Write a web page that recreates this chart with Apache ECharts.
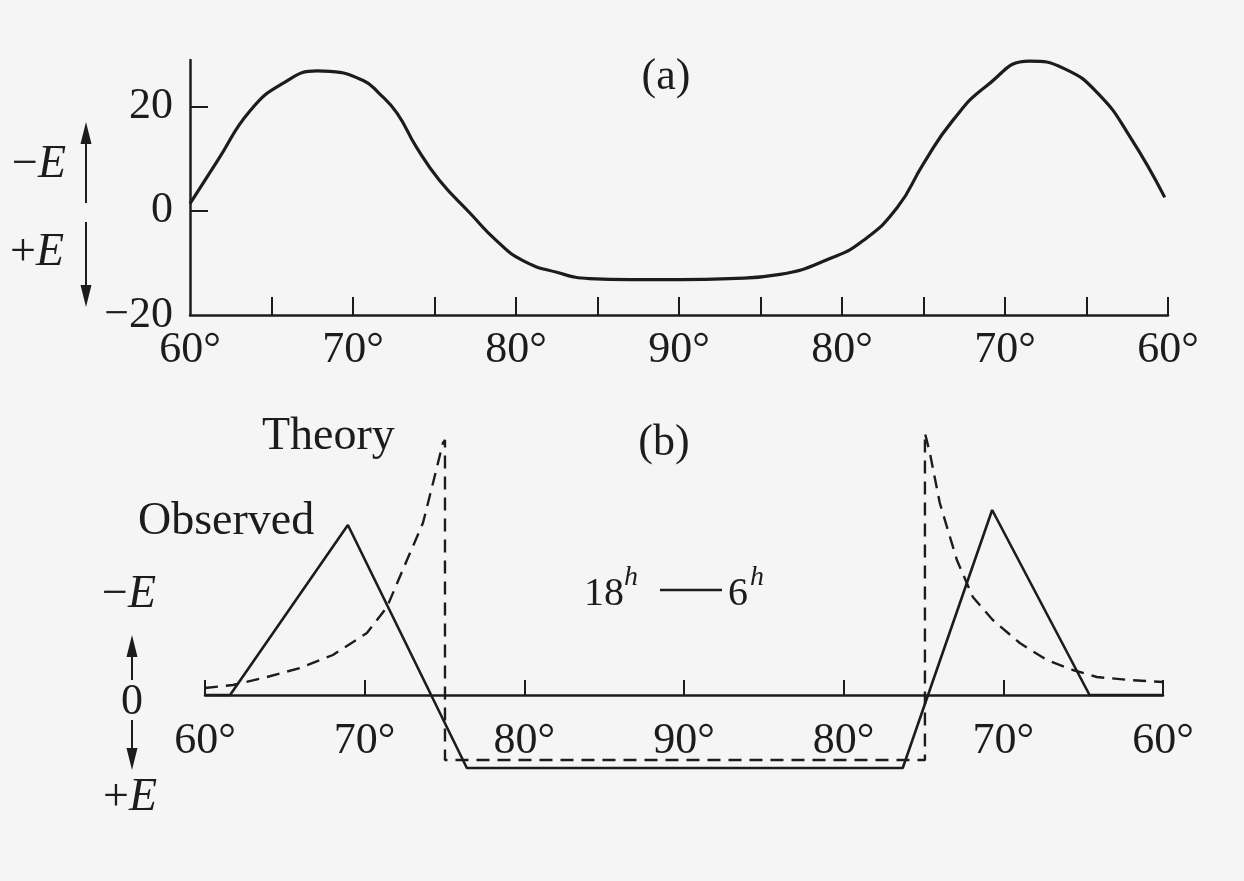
<!DOCTYPE html>
<html>
<head>
<meta charset="utf-8">
<title>Polar cap electric field, 60° – 90° – 60°</title>
<script src="https://cdn.jsdelivr.net/npm/echarts@6/dist/echarts.min.js"></script>
<style>
  html, body { margin: 0; padding: 0; background: #f5f5f5; }
  #grafica { width: 1244px; height: 881px; }
</style>
</head>
<body>
<div id="grafica"></div>
<script>
// ── Panel (a): campo medido a lo largo del recorrido 60° → 90° → 60° ─────────
// recorrido = grados recorridos desde el primer 60° (0 … 60)
const recorridoA = [0, 1.7, 3.7, 5.7, 7.8, 8.6, 10.6, 11.6, 12.7, 13.9, 15.3, 17.2, 18.8, 20.4, 22.5, 24.5,
   27.0, 30.1, 33.1, 36.2, 39.3, 41.3, 43.4, 45.0, 46.8, 48.9, 51.5, 53.6, 55.7, 57.7, 59.8];
const campoA = [1.4, 9.7, 19.3, 24.5, 26.9, 26.8, 25.1, 22.6, 18.8, 12.2, 5.9, -0.5, -5.7, -9.5, -11.8, -13.0,
   -13.2, -13.2, -13.0, -12.2, -9.1, -5.7, 0.7, 9.1, 17.4, 24.1, 28.8, 27.4, 22.6, 14.1, 2.6];

// ── Panel (b): observado (continuo) y teoría (discontinuo) ──────────────────
const recorridoObs = [0, 1.57, 8.95, 16.4, 43.7, 49.3, 55.4, 60];
const campoObs = [0, 0, 17.0, -7.3, -7.3, 18.5, 0, 0];

const recorridoTeo = [0, 1.75, 3.88, 5.95, 8.01, 10.14, 11.4, 12.65, 13.65, 14.28, 14.9, 15.03, 15.03,
   45.09, 45.09, 45.4, 46.02, 47.09, 48.09, 49.34, 51.03, 52.72, 54.35, 55.85, 57.92, 60];
const campoTeo = [0.7, 1.0, 1.8, 2.7, 4.0, 6.2, 8.8, 13.5, 17.2, 21.2, 25.2, 25.5, -6.5,
   -6.5, 26.2, 24.2, 19.2, 13.5, 9.8, 7.5, 5.2, 3.5, 2.5, 1.8, 1.5, 1.3];

// ── Ejes ────────────────────────────────────────────────────────────────────
const posEtiquetas = [0, 10, 20, 30, 40, 50, 60];
const etiquetasLat = ["60°", "70°", "80°", "90°", "80°", "70°", "60°"];
const marcasA = [5, 10, 15, 20, 25, 30, 35, 40, 45, 50, 55, 60];
const marcasB = [0, 10, 20, 30, 40, 50, 60];
const etiquetasYA = [-20, 0, 20];
const marcasYA = [0, 20];

const tinta = "#1c1c1c";
const fuente = '"Liberation Serif", "DejaVu Serif", serif';

const fnEjeLatitud = (indiceGrid, marcas, largoMarca, margen) => ({
   type: "value",
   gridIndex: indiceGrid,
   min: 0,
   max: 60,
   interval: 5,
   axisLine: { onZero: false, lineStyle: { color: tinta, width: 2.5 } },
   axisTick: { inside: true, length: largoMarca, customValues: marcas, lineStyle: { color: tinta, width: 2 } },
   axisLabel: {
      customValues: posEtiquetas,
      margin: margen,
      fontFamily: fuente,
      fontSize: 44,
      color: tinta,
      formatter: v => etiquetasLat[Math.round(v / 10)] || ""
   },
   splitLine: { show: false }
});

const fnPares = (xs, ys) => xs.map((x, i) => [x, ys[i]]);

// ── Anotaciones ─────────────────────────────────────────────────────────────
const fnTexto = (x, y, contenido, tam, alinear, extra) => ({
   type: "text", x, y, silent: true,
   style: Object.assign({
      text: contenido, fontFamily: fuente, fontSize: tam, fill: tinta,
      align: alinear || "center", verticalAlign: "middle"
   }, extra || {})
});

const fnTextoE = (x, y, signo) => fnTexto(x, y, `{m|${signo}}{e|E}`, 46, "left", {
   rich: {
      m: { fontFamily: fuente, fontSize: 46, fill: tinta },
      e: { fontFamily: fuente, fontSize: 46, fill: tinta, fontStyle: "italic" }
   }
});

const fnFlecha = (x, yBase, yPunta) => {
   const dir = yPunta < yBase ? -1 : 1;
   const cabeza = 22, medio = 5.5;
   const yCabeza = yPunta - dir * cabeza;
   return [
      { type: "line", silent: true, shape: { x1: x, y1: yBase, x2: x, y2: yCabeza }, style: { stroke: tinta, lineWidth: 2 } },
      { type: "polygon", silent: true, shape: { points: [[x, yPunta], [x - medio, yCabeza], [x + medio, yCabeza]] }, style: { fill: tinta } }
   ];
};

const anotaciones = [
   fnTexto(666, 77, "(a)", 44),
   fnTexto(664, 443, "(b)", 44),
   fnTexto(262, 437, "Theory", 46, "left"),
   fnTexto(138, 522, "Observed", 46, "left"),
   fnTexto(584, 594, "18", 40, "left"),
   fnTexto(624, 578, "h", 28, "left", { fontStyle: "italic" }),
   { type: "line", silent: true, shape: { x1: 660, y1: 590, x2: 722, y2: 590 }, style: { stroke: tinta, lineWidth: 2.5 } },
   fnTexto(728, 594, "6", 40, "left"),
   fnTexto(750, 578, "h", 28, "left", { fontStyle: "italic" }),
   fnTextoE(12, 165, "−"),
   fnTextoE(10, 253, "+"),
   fnTextoE(102, 595, "−"),
   fnTexto(132, 702, "0", 44),
   fnTextoE(103, 798, "+"),
   ...fnFlecha(86, 203, 122),
   ...fnFlecha(86, 222, 307),
   ...fnFlecha(132, 680, 635),
   ...fnFlecha(132, 720, 770)
];

const grafica = echarts.init(document.getElementById("grafica"), null, { renderer: "canvas" });

grafica.setOption({
   backgroundColor: "#f5f5f5",
   animation: false,
   grid: [
      { left: 190, right: 76, top: 60, height: 255 },
      // el eje de (b) es la línea de cero; lo negativo se dibuja por debajo (clip: false)
      { left: 205, right: 81, top: 425, height: 270 }
   ],
   xAxis: [
      fnEjeLatitud(0, marcasA, 18, 13),
      fnEjeLatitud(1, marcasB, 15, 24)
   ],
   yAxis: [
      {
         type: "value",
         gridIndex: 0,
         min: -20,
         max: 29,
         interval: 20,
         axisLine: { show: true, lineStyle: { color: tinta, width: 2.5 } },
         axisTick: { show: true, inside: true, length: 18, customValues: marcasYA, lineStyle: { color: tinta, width: 2 } },
         axisLabel: {
            customValues: etiquetasYA,
            margin: 17,
            fontFamily: fuente,
            fontSize: 44,
            color: tinta,
            formatter: v => (v < 0 ? "−" + Math.abs(v) : String(v))
         },
         splitLine: { show: false }
      },
      { type: "value", gridIndex: 1, min: 0, max: 27, show: false, splitLine: { show: false } }
   ],
   series: [
      {
         name: "(a)",
         type: "line",
         xAxisIndex: 0,
         yAxisIndex: 0,
         data: fnPares(recorridoA, campoA),
         smooth: 0.5,
         showSymbol: false,
         lineStyle: { color: tinta, width: 3.2 }
      },
      {
         name: "Observed",
         type: "line",
         xAxisIndex: 1,
         yAxisIndex: 1,
         clip: false,
         data: fnPares(recorridoObs, campoObs),
         showSymbol: false,
         lineStyle: { color: tinta, width: 2.6 }
      },
      {
         name: "Theory",
         type: "line",
         xAxisIndex: 1,
         yAxisIndex: 1,
         clip: false,
         data: fnPares(recorridoTeo, campoTeo),
         showSymbol: false,
         lineStyle: { color: tinta, width: 2.4, type: [13, 8] }
      }
   ],
   graphic: anotaciones
});
</script>
</body>
</html>
